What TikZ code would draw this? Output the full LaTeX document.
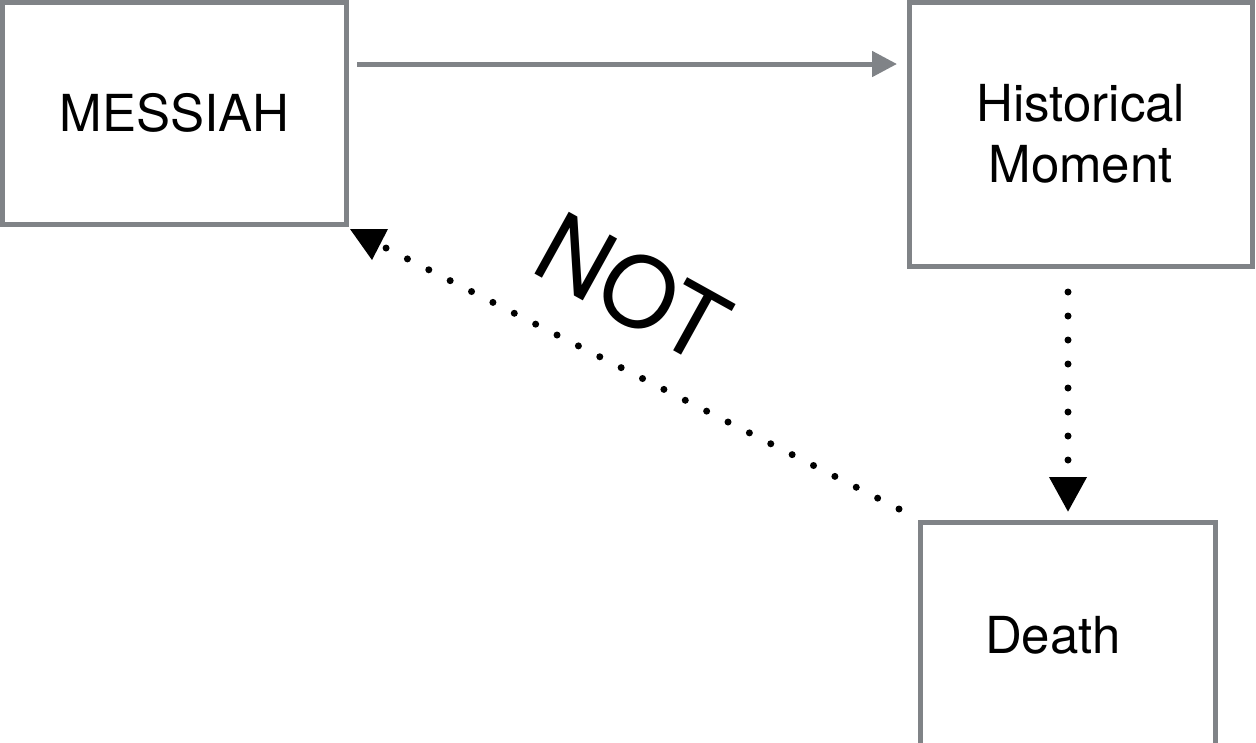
\documentclass[tikz,border=0pt]{standalone}
\usepackage{fontspec}
\setmainfont{TeX Gyre Heros}
\usetikzlibrary{arrows.meta}
\definecolor{boxgray}{RGB}{128,131,135}
\begin{document}
\begin{tikzpicture}[x=1pt,y=-1pt,
  box/.style={draw=boxgray,line width=5pt,rectangle,inner sep=0pt,outer sep=0pt,
    font=\fontsize{51}{61}\selectfont,align=center},
  grayarrow/.style={draw=boxgray,line width=5pt,-{Triangle[width=25pt,length=25pt]}},
  dotline/.style={line width=7pt,line cap=round,dash pattern=on 0pt off 24pt}]
\useasboundingbox (0,0) rectangle (1256,742);
\node[box,minimum width=344pt,minimum height=221.2pt] (messiah) at (174.5,113.4) {MESSIAH};
\node[box,minimum width=343.5pt,minimum height=263.5pt] (historical) at (1080.75,134.25) {Historical\\Moment};
\node[box,minimum width=295pt,minimum height=226pt,
  label={[font=\fontsize{51}{61}\selectfont,xshift=-15pt,inner sep=0pt]center:Death}] (death) at (1068,635) {};
\draw[grayarrow] ([xshift=10.5pt,yshift=49.4pt]messiah.east) coordinate (g0) -- ([xshift=-12pt]historical.west |- g0);
\draw[dotline,-{Triangle[width=36pt,length=35pt]},shorten <=26pt,shorten >=10pt]
  (historical.south -| death.north) -- (death.north);
\draw[dotline,dash pattern=on 0pt off 23.98pt]
  ([shift={(-21.5,-13)}]death.north west) -- ([shift={(39.5,24)}]messiah.south east);
\fill ([shift={(3.5,5)}]messiah.south east) -- ([shift={(41.5,5)}]messiah.south east)
  -- ([shift={(25.5,36)}]messiah.south east) -- cycle;
\node[font=\fontsize{97}{100}\selectfont,rotate=-29,inner sep=0pt] (not) at (633,288) {NOT};
\end{tikzpicture}
\end{document}
